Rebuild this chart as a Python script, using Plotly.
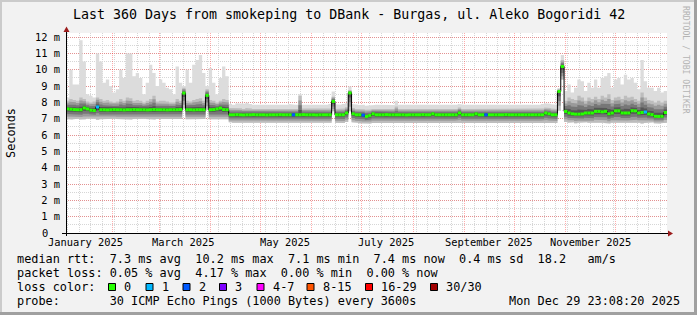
import pandas as pd
import plotly.graph_objects as go

# ---------------- data ----------------
title_text = "Last 360 Days from smokeping to DBank - Burgas, ul. Aleko Bogoridi 42"
t_start = pd.Timestamp("2025-01-03 23:08:20")
bin_days = 2  # one value per 2-day consolidation step

# Jan -> early Apr (median ~7.55 ms)
med_A = [7.60,7.58,7.56,7.55,7.55,7.66,7.60,7.52,7.50,7.72,
         7.55,7.55,7.54,7.55,7.56,7.55,7.55,7.54,7.55,7.55,
         7.56,7.55,7.55,7.55,7.54,7.55,7.56,7.55,7.55,7.55,
         7.54,7.55,7.55,7.55,7.56,8.57,7.55,7.55,7.54,7.55,
         7.55,7.55,8.43,7.55,7.56,7.60,7.65,7.56,7.55]
hi_A = [8.3,10.0,9.1,9.1,11.8,10.5,8.5,8.4,8.3,11.0,
        10.5,9.2,9.4,9.0,8.6,8.8,10.0,9.5,11.0,11.0,
        9.6,9.8,9.5,8.5,9.2,10.3,9.8,9.0,9.4,9.2,
        8.9,8.8,8.5,10.2,9.2,9.0,10.0,9.2,10.3,10.6,
        10.9,9.8,9.0,10.1,9.2,8.5,9.5,10.2,9.6]
dk_A = [8.1,8.2,8.15,8.1,8.3,8.2,8.05,8.0,8.05,8.3,
        8.2,8.1,8.15,8.05,8.0,8.05,8.2,8.1,8.3,8.25,
        8.1,8.15,8.1,8.0,8.1,8.2,8.4,8.05,8.1,8.1,
        8.05,8.0,8.0,8.2,8.1,8.9,8.1,8.05,8.15,8.2,
        8.25,8.1,8.8,8.15,8.1,8.0,8.1,8.2,8.15]
lo_A = [6.98,6.95,6.97,7.0,6.95,6.96,7.0,7.02,7.0,6.94,
        6.97,6.98,6.96,7.0,7.0,6.98,6.96,6.97,6.94,6.95,
        6.98,6.97,6.98,7.0,6.98,6.96,6.95,6.99,6.98,6.97,
        6.98,7.0,7.0,6.96,6.98,7.62,6.97,6.98,6.96,6.95,
        6.95,6.98,7.55,6.97,6.96,6.98,6.95,6.96,6.97]

# Apr -> late Oct (median ~7.24 ms)
med_B = [7.24,7.24,7.25,7.24,7.23,7.24,7.24,7.25,7.24,7.24,
         7.24,7.23,7.24,7.24,7.24,7.25,7.24,7.24,7.24,7.24,
         7.24,7.24,7.25,7.24,7.24,7.24,7.23,7.24,7.24,7.24,
         7.24,8.06,7.24,7.24,7.24,7.35,8.58,7.30,7.24,7.24,
         7.22,7.14,7.20,7.30,7.24,7.24,7.24,7.25,7.24,7.24,
         7.24,7.24,7.24,7.23,7.24,7.24,7.24,7.24,7.25,7.24,
         7.24,7.30,7.24,7.24,7.24,7.24,7.24,7.24,7.24,7.35,
         7.24,7.24,7.24,7.24,7.30,7.24,7.24,7.24,7.24,7.24,
         7.24,7.24,7.24,7.25,7.24,7.24,7.24,7.24,7.24,7.24,
         7.24,7.24,7.24,7.24,7.24,7.35,7.30,7.24,7.24]
hi_B = [7.9,7.85,7.95,7.95,7.92,7.98,7.9,7.85,7.88,7.86,
        7.84,7.86,7.85,7.88,7.85,7.84,7.86,7.85,7.9,7.86,
        7.85,8.5,7.86,7.84,7.85,7.86,7.84,7.85,7.88,7.85,
        7.9,8.67,7.88,7.85,7.9,7.95,8.98,7.9,7.86,7.84,
        7.85,7.8,7.82,7.84,7.85,7.86,7.84,7.85,7.86,7.84,
        8.1,7.86,7.85,7.84,7.85,7.86,7.85,7.84,7.85,7.86,
        7.85,7.86,7.84,7.85,7.86,7.85,7.84,7.85,7.86,7.9,
        7.86,7.85,7.84,7.85,7.86,7.85,7.84,7.85,7.86,7.85,
        7.84,7.85,7.86,7.85,7.84,7.85,7.86,7.85,7.84,7.85,
        7.86,7.85,7.84,7.85,7.9,7.95,7.92,7.88,7.86]
dk_B = [7.65,7.62,7.66,7.64,7.6,7.65,7.62,7.6,7.62,7.6,
        7.6,7.62,7.6,7.6,7.62,7.6,7.6,7.62,7.6,7.6,
        7.6,8.4,7.62,7.6,7.6,7.6,7.6,7.62,7.6,7.6,
        7.62,8.35,7.6,7.6,7.62,7.7,8.75,7.65,7.6,7.6,
        7.58,7.55,7.56,7.6,7.6,7.6,7.6,7.62,7.6,7.6,
        7.75,7.6,7.6,7.6,7.6,7.62,7.6,7.6,7.6,7.6,
        7.6,7.62,7.6,7.6,7.6,7.6,7.6,7.6,7.6,7.68,
        7.6,7.6,7.6,7.6,7.62,7.6,7.6,7.6,7.6,7.6,
        7.6,7.6,7.6,7.6,7.6,7.6,7.6,7.6,7.6,7.6,
        7.6,7.6,7.6,7.6,7.62,7.68,7.65,7.62,7.6]
lo_B = [6.78,6.76,6.75,6.74,6.76,6.75,6.73,6.75,6.76,6.74,
        6.75,6.74,6.76,6.75,6.73,6.75,6.74,6.76,6.75,6.74,
        6.75,6.76,6.74,6.75,6.73,6.75,6.76,6.74,6.75,6.74,
        6.75,7.45,6.76,6.75,6.74,6.8,7.45,6.78,6.75,6.72,
        6.7,6.68,6.7,6.74,6.75,6.74,6.76,6.75,6.74,6.75,
        6.76,6.75,6.74,6.75,6.76,6.74,6.75,6.76,6.74,6.75,
        6.75,6.76,6.74,6.75,6.76,6.75,6.74,6.75,6.76,6.78,
        6.75,6.74,6.75,6.76,6.75,6.74,6.75,6.76,6.74,6.75,
        6.75,6.76,6.74,6.75,6.76,6.75,6.74,6.75,6.76,6.74,
        6.75,6.74,6.76,6.75,6.76,6.78,6.76,6.75,6.74]

# late Oct spike -> end of Dec
med_C = [8.67,10.2,
         7.45,7.35,7.30,7.28,7.28,7.29,7.35,7.35,7.35,7.45,
         7.45,7.42,7.45,7.30,7.35,7.48,7.48,7.35,7.35,7.35,
         7.49,7.48,7.35,7.38,7.41,7.29,7.25,7.15,7.14,7.15,7.38]
hi_C = [8.88,10.9,
        8.7,9.1,8.6,8.9,9.4,9.3,8.7,9.2,8.9,9.4,
        8.9,9.5,9.6,9.8,8.9,9.4,9.5,9.1,9.7,9.4,
        9.5,9.2,8.8,10.6,9.3,8.9,8.9,8.7,8.9,8.6,8.7]
dk_C = [8.8,10.6,
        8.1,8.3,8.2,8.15,8.4,8.3,8.1,8.3,8.2,8.35,
        8.2,8.4,8.3,8.5,8.15,8.3,8.35,8.2,8.4,8.3,
        8.35,8.2,8.1,8.6,8.3,8.15,8.1,8.0,8.1,8.0,8.1]
lo_C = [7.5,9.4,
        6.8,6.75,6.78,6.72,6.75,6.74,6.78,6.75,6.72,6.76,
        6.74,6.75,6.73,6.7,6.76,6.74,6.72,6.75,6.73,6.74,
        6.72,6.75,6.76,6.7,6.74,6.76,6.78,6.72,6.7,6.72,6.76]

# steps with packet loss (index of step, loss bucket)
loss_steps = [9, 68, 89, 126, 174]
loss_bucket = [1, 2, 2, 2, 1]

loss_labels = ["0", "1", "2", "3", "4-7", "8-15", "16-29", "30/30"]
loss_colors = ["#26ff00", "#00b8ff", "#0059ff", "#7e00ff",
               "#ff00ff", "#ff5500", "#ff0000", "#a00000"]

y_tick_vals = [1, 2, 3, 4, 5, 6, 7, 8, 9, 10, 11, 12]
y_tick_text = ["1 m", "2 m", "3 m", "4 m", "5 m", "6 m",
               "7 m", "8 m", "9 m", "10 m", "11 m", "12 m"]
y_zero_label = "0"
x_label_months = ["2025-01-01", "2025-03-01", "2025-05-01",
                  "2025-07-01", "2025-09-01", "2025-11-01"]
x_label_text = ["January 2025", "March 2025", "May 2025",
                "July 2025", "September 2025", "November 2025"]

legend_lines = [
    "median rtt:  7.3 ms avg  10.2 ms max  7.1 ms min  7.4 ms now  0.4 ms sd  18.2   am/s",
    "packet loss: 0.05 % avg  4.17 % max  0.00 % min  0.00 % now",
    "loss color:",
    "probe:       30 ICMP Echo Pings (1000 Bytes) every 3600s",
]
stamp = "Mon Dec 29 23:08:20 2025"
watermark = "RRDTOOL / TOBI OETIKER"

# ---------------- build ----------------
med = med_A + med_B + med_C
hi = hi_A + hi_B + hi_C
dk = dk_A + dk_B + dk_C
lo = lo_A + lo_B + lo_C
n = len(med)
assert len(hi) == n and len(dk) == n and len(lo) == n
loss = [0] * n
for s, b in zip(loss_steps, loss_bucket):
    loss[s] = b

edges = [t_start + pd.Timedelta(days=bin_days * i) for i in range(n + 1)]
x_end = edges[-1]

W, H = 697, 315
PL, PR, PT, PB = 66, 667, 33, 233
FONT = "DejaVu Sans Mono"


def pxx(x):
    return (x - PL) / (PR - PL)


def pxy(y):
    return (PB - y) / (PB - PT)


def step(vals):
    xs, ys = [], []
    for i, v in enumerate(vals):
        xs += [edges[i], edges[i + 1]]
        ys += [v, v]
    return xs, ys


def band(bottom, top, color):
    xs, yt = step(top)
    _, yb = step(bottom)
    return go.Scatter(x=xs + xs[::-1], y=yt + yb[::-1], fill="toself",
                      fillcolor=color, line=dict(width=0), mode="lines",
                      hoverinfo="skip", showlegend=False)


fig = go.Figure()
# smoke: light outer envelope, then nested darker bands around the median
fig.add_trace(band(lo, hi, "#dcdcdc"))
shades = ["#bdbdbd", "#9a9a9a", "#777777", "#555555"]
for k, c in enumerate(shades):
    f = k / 4.0
    b = [l + (m - l) * f for l, m in zip(lo, med)]
    t = [d - (d - m) * f for d, m in zip(dk, med)]
    fig.add_trace(band(b, t, c))

# median line (black) + loss coloured segments
mx, my = step(med)
fig.add_trace(go.Scatter(x=mx, y=my, mode="lines", line=dict(color="#000000", width=1),
                         hoverinfo="skip", showlegend=False))
for bkt, col in enumerate(loss_colors):
    sx, sy = [], []
    for i in range(n):
        if loss[i] == bkt:
            sx += [edges[i], edges[i + 1], None]
            sy += [med[i], med[i], None]
    if sx:
        fig.add_trace(go.Scatter(x=sx, y=sy, mode="lines", line=dict(color=col, width=3),
                                 hoverinfo="skip", showlegend=False))

ann = []
ann.append(dict(text=title_text, x=pxx(348.5), y=pxy(14), xanchor="center", yanchor="middle",
                font=dict(family=FONT, size=13.3, color="#000")))
ann.append(dict(text="Seconds", x=pxx(11), y=pxy(133), textangle=-90, xanchor="center",
                yanchor="middle", font=dict(family=FONT, size=11.85, color="#000")))
ann.append(dict(text=watermark.replace(" ", "\u00a0"), x=pxx(686), y=pxy(60), textangle=90,
                xanchor="center", yanchor="middle",
                font=dict(family=FONT, size=8.15, color="#b4b4b4")))
ann.append(dict(text=y_zero_label, x=0, y=0, xanchor="right", yanchor="middle", xshift=-17,
                font=dict(family=FONT, size=10.4, color="#000")))
for m, t in zip(x_label_months, x_label_text):
    xm = pd.Timestamp(m) + pd.Timedelta(days=15)
    ann.append(dict(text=t.replace(" ", "\u00a0"), x=xm, xref="x", y=pxy(242.3), yanchor="middle",
                    xanchor="center", font=dict(family=FONT, size=10.4, color="#000")))
line_y = [259.3, 273.3, 287.3, 301.3]
for t, yy in zip(legend_lines, line_y):
    ann.append(dict(text=t.replace(" ", "\u00a0"), x=pxx(15.5), y=pxy(yy), xanchor="left",
                    yanchor="middle", font=dict(family=FONT, size=11.85, color="#000")))
ann.append(dict(text=stamp.replace(" ", "\u00a0"), x=pxx(681), y=pxy(301.3), xanchor="right",
                yanchor="middle", font=dict(family=FONT, size=11.85, color="#000")))

box_x = [108, 145.5, 182.5, 219, 256.5, 306.5, 365, 430]
shapes = []
for bx, lab, col in zip(box_x, loss_labels, loss_colors):
    shapes.append(dict(type="rect", xref="paper", yref="paper",
                       x0=pxx(bx + 0.5), x1=pxx(bx + 7.5), y0=pxy(283.5), y1=pxy(290.5),
                       fillcolor=col, line=dict(color="#000", width=1)))
    ann.append(dict(text=lab, x=pxx(bx + 15), y=pxy(287.3), xanchor="left", yanchor="middle",
                    font=dict(family=FONT, size=11.85, color="#000")))

for a in ann:
    a.setdefault("xref", "paper")
    a.setdefault("yref", "paper")
    a["showarrow"] = False
    a["borderpad"] = 0

# frame shading
shapes += [
    dict(type="rect", xref="paper", yref="paper", x0=pxx(0), x1=pxx(697), y0=pxy(0), y1=pxy(2),
         fillcolor="#cbcbcb", line=dict(width=0)),
    dict(type="rect", xref="paper", yref="paper", x0=pxx(0), x1=pxx(2), y0=pxy(0), y1=pxy(315),
         fillcolor="#cbcbcb", line=dict(width=0)),
    dict(type="rect", xref="paper", yref="paper", x0=pxx(0), x1=pxx(697), y0=pxy(312), y1=pxy(315),
         fillcolor="#a0a0a0", line=dict(width=0)),
    dict(type="rect", xref="paper", yref="paper", x0=pxx(694), x1=pxx(697), y0=pxy(0), y1=pxy(315),
         fillcolor="#a0a0a0", line=dict(width=0)),
    # axes
    dict(type="line", xref="paper", yref="paper", x0=pxx(62), x1=pxx(669), y0=pxy(233.5), y1=pxy(233.5),
         line=dict(color="#000", width=1)),
    dict(type="line", xref="paper", yref="paper", x0=pxx(66.5), x1=pxx(66.5), y0=pxy(236), y1=pxy(30),
         line=dict(color="#000", width=1)),
    dict(type="path", xref="paper", yref="paper",
         path=f"M {pxx(668)} {pxy(230.5)} L {pxx(673)} {pxy(233.5)} L {pxx(668)} {pxy(236.5)} Z",
         fillcolor="#9b1c1c", line=dict(width=0)),
    dict(type="path", xref="paper", yref="paper",
         path=f"M {pxx(63.5)} {pxy(32)} L {pxx(66.5)} {pxy(26.5)} L {pxx(69.5)} {pxy(32)} Z",
         fillcolor="#9b1c1c", line=dict(width=0)),
]

major = "rgba(255,0,0,0.32)"
minor = "#d6d6d6"
fig.update_layout(
    width=W, height=H, autosize=False,
    margin=dict(l=PL, r=W - PR, t=PT, b=H - PB),
    paper_bgcolor="#f2f2f2", plot_bgcolor="#ffffff",
    showlegend=False, hovermode=False,
    annotations=ann, shapes=shapes,
    xaxis=dict(type="date", range=[edges[0], x_end], showticklabels=False, ticks="",
               showgrid=True, gridcolor=major, griddash="1px,1px", gridwidth=1,
               dtick="M1", tick0="2025-01-01", zeroline=False, showline=False,
               minor=dict(dtick=7 * 86400000, tick0="2025-01-05", showgrid=True,
                          gridcolor=minor, griddash="1px,1px", gridwidth=1)),
    yaxis=dict(range=[0, 12.25], tickvals=y_tick_vals, ticktext=y_tick_text, ticks="",
               showgrid=True, gridcolor=major, griddash="1px,1px", gridwidth=1,
               zeroline=False, showline=False, ticklabelstandoff=5,
               tickfont=dict(family=FONT, size=10.4, color="#000"),
               minor=dict(dtick=0.5, showgrid=True, gridcolor=minor,
                          griddash="1px,1px", gridwidth=1)),
)

fig.write_html("out.html", config={"displayModeBar": False})
